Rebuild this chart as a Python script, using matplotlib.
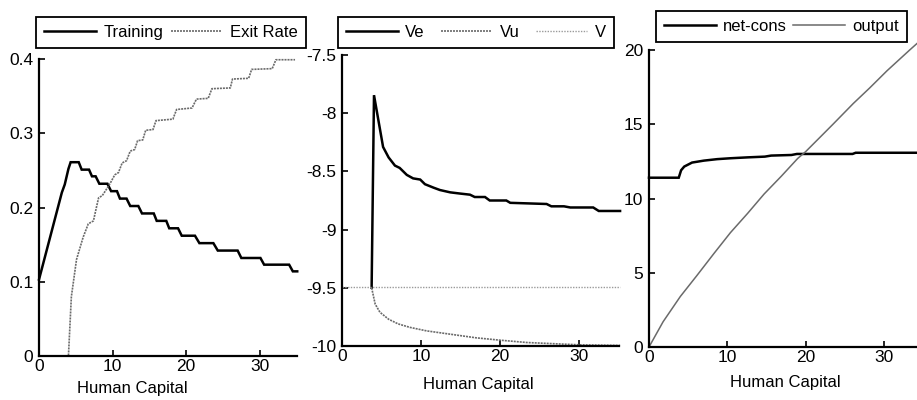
import matplotlib
matplotlib.use("Agg")
import matplotlib.pyplot as plt
from matplotlib.ticker import FuncFormatter

plt.rcParams['font.family'] = ['Liberation Sans', 'DejaVu Sans']
plt.rcParams['axes.unicode_minus'] = False

# ---------------- data ----------------
# Panel 1: Training and Exit Rate vs Human Capital
hc_train = [0, 3.1, 3.5, 4.0, 4.3, 5.4, 5.8, 6.8, 7.2, 7.7, 8.2, 9.3, 9.8, 10.6,
            11.0, 11.9, 12.4, 13.5, 14.0, 15.6, 16.0, 17.3, 17.7, 18.9, 19.4,
            21.2, 21.8, 23.7, 24.3, 27.0, 27.5, 30.1, 30.6, 34.0, 34.5, 35.1]
training = [0.103, 0.220, 0.231, 0.252, 0.261, 0.261, 0.251, 0.251, 0.242, 0.242,
            0.232, 0.232, 0.222, 0.222, 0.212, 0.212, 0.202, 0.202, 0.192, 0.192,
            0.182, 0.182, 0.172, 0.172, 0.162, 0.162, 0.152, 0.152, 0.142, 0.142,
            0.132, 0.132, 0.123, 0.123, 0.114, 0.114]
hc_exit = [0, 4.0, 4.4, 5.1, 6.0, 6.7, 7.4, 7.8, 8.1, 8.6, 9.0, 9.7, 10.3, 10.8,
           11.3, 11.9, 12.4, 13.0, 13.4, 14.1, 14.5, 15.5, 15.9, 18.2, 18.7, 20.8,
           21.4, 23.0, 23.5, 26.0, 26.3, 28.5, 28.9, 31.7, 32.2, 34.8]
exit_rate = [0, 0, 0.080, 0.130, 0.160, 0.178, 0.182, 0.200, 0.213, 0.216, 0.222,
             0.233, 0.244, 0.247, 0.260, 0.263, 0.276, 0.278, 0.290, 0.291, 0.304,
             0.305, 0.317, 0.319, 0.332, 0.334, 0.346, 0.347, 0.360, 0.361, 0.373,
             0.374, 0.386, 0.387, 0.399, 0.399]

# Panel 2: value functions
hc_ve = [3.75, 4.05, 5.2, 5.9, 6.7, 7.3, 8.2, 9.0, 9.9, 10.5, 11.6, 12.4, 13.7,
         14.9, 16.2, 16.8, 18.1, 18.7, 20.8, 21.3, 25.9, 26.5, 28.1, 28.9, 31.8,
         32.5, 35.2]
ve = [-9.5, -7.845, -8.29, -8.38, -8.45, -8.47, -8.53, -8.56, -8.57, -8.61, -8.64,
      -8.66, -8.68, -8.69, -8.70, -8.72, -8.72, -8.75, -8.75, -8.77, -8.78, -8.80,
      -8.80, -8.81, -8.81, -8.84, -8.84]
hc_vu = [3.75, 4.2, 4.8, 5.9, 7.1, 8.6, 10.7, 12.8, 14.9, 17.0, 20.0, 23.4, 26.7,
         30.1, 35.2]
vu = [-9.5, -9.64, -9.71, -9.77, -9.81, -9.84, -9.87, -9.89, -9.91, -9.93, -9.95,
      -9.97, -9.98, -9.99, -9.995]
hc_v = [0, 35.2]
v = [-9.49, -9.49]

# Panel 3: net consumption and output
hc_cons = [0, 3.8, 4.1, 4.5, 5.5, 7.0, 8.7, 10.4, 12.6, 14.8, 15.6, 18.2, 18.9,
           26.0, 26.4, 35.0]
net_cons = [11.4, 11.4, 11.9, 12.15, 12.42, 12.55, 12.65, 12.71, 12.77, 12.82,
            12.89, 12.93, 13.0, 13.0, 13.08, 13.08]
hc_out = [0, 1.8, 4.0, 6.1, 8.3, 10.4, 12.6, 14.7, 16.9, 19.0, 20.0, 21.8, 23.5,
          26.1, 28.2, 30.4, 33.3, 35.0]
output = [0, 1.7, 3.4, 4.8, 6.3, 7.7, 9.0, 10.3, 11.5, 12.7, 13.15, 14.1, 15.0,
          16.4, 17.45, 18.6, 20.0, 20.8]

xticks = [0, 10, 20, 30]
yticks1 = [0, 0.1, 0.2, 0.3, 0.4]
yticks2 = [-10, -9.5, -9, -8.5, -8, -7.5]
yticks3 = [0, 5, 10, 15, 20]

# ---------------- figure ----------------
W, H = 917, 400
fig = plt.figure(figsize=(W / 100, H / 100), dpi=100)


def px_axes(left, right, top, bottom):
    return fig.add_axes([left / W, 1 - bottom / H, (right - left) / W, (bottom - top) / H])


ax1 = px_axes(39, 296.5, 59, 356)
ax2 = px_axes(342, 618.5, 55, 346)
ax3 = px_axes(649, 923, 50, 347)

fmt = FuncFormatter(lambda val, pos: f"{val:g}")

BLACK = dict(color='black', lw=1.8, solid_joinstyle='miter', clip_on=False)
GRAY = dict(color='#6a6a6a', lw=1.2, ls=(0, (1.2, 0.6)), clip_on=False)
LIGHT = dict(color='#9a9a9a', lw=1.0, ls=(0, (1.0, 1.0)), clip_on=False)

for ax in (ax1, ax2, ax3):
    for s in ('top', 'right'):
        ax.spines[s].set_visible(False)
    for s in ('left', 'bottom'):
        ax.spines[s].set_linewidth(1.6)
    ax.tick_params(direction='in', length=4, width=1.2, labelsize=12.5)
    ax.tick_params(axis='x', pad=2.5)
    ax.tick_params(axis='y', pad=4)
    ax.set_xticks(xticks)
    ax.xaxis.set_major_formatter(fmt)
    ax.yaxis.set_major_formatter(fmt)
    ax.set_xlim(0, 35)

# Panel 1
l1, = ax1.plot(hc_train, training, **BLACK)
l2, = ax1.plot(hc_exit, exit_rate, **GRAY)
ax1.set_ylim(0, 0.4)
ax1.set_yticks(yticks1)

# Panel 2
m1, = ax2.plot(hc_ve, ve, **BLACK)
m2, = ax2.plot(hc_vu, vu, **GRAY)
m3, = ax2.plot(hc_v, v, **LIGHT)
ax2.set_ylim(-10, -7.5)
ax2.set_yticks(yticks2)

# Panel 3
n1, = ax3.plot(hc_cons, net_cons, **BLACK)
n2, = ax3.plot(hc_out, output, color='#6a6a6a', lw=1.1, clip_on=False)
ax3.set_ylim(0, 20)
ax3.set_yticks(yticks3)

# x labels
fig.text(132 / W, 1 - 388 / H, 'Human Capital', ha='center', va='center', fontsize=12)
fig.text(478 / W, 1 - 385 / H, 'Human Capital', ha='center', va='center', fontsize=12)
fig.text(785 / W, 1 - 382 / H, 'Human Capital', ha='center', va='center', fontsize=12)


def box_legend(ax, handles, labels, cx, cy, colsp):
    leg = ax.legend(handles, labels, loc='center',
                    bbox_to_anchor=(cx / W, 1 - cy / H),
                    bbox_transform=fig.transFigure, ncol=len(handles),
                    borderaxespad=0, frameon=True, fancybox=False, edgecolor='black',
                    framealpha=1, handlelength=3.1, handletextpad=0.45,
                    columnspacing=colsp, borderpad=0.5, fontsize=12)
    leg.get_frame().set_linewidth(1.3)
    return leg


box_legend(ax1, [l1, l2], ['Training', 'Exit Rate'], 171, 32.5, 0.45)
box_legend(ax2, [m1, m2, m3], ['Ve', 'Vu', 'V'], 476, 32.5, 0.95)
box_legend(ax3, [n1, n2], ['net-cons', 'output'], 781.5, 26.5, 0.35)

fig.savefig('out.png', dpi=100, facecolor='white')
